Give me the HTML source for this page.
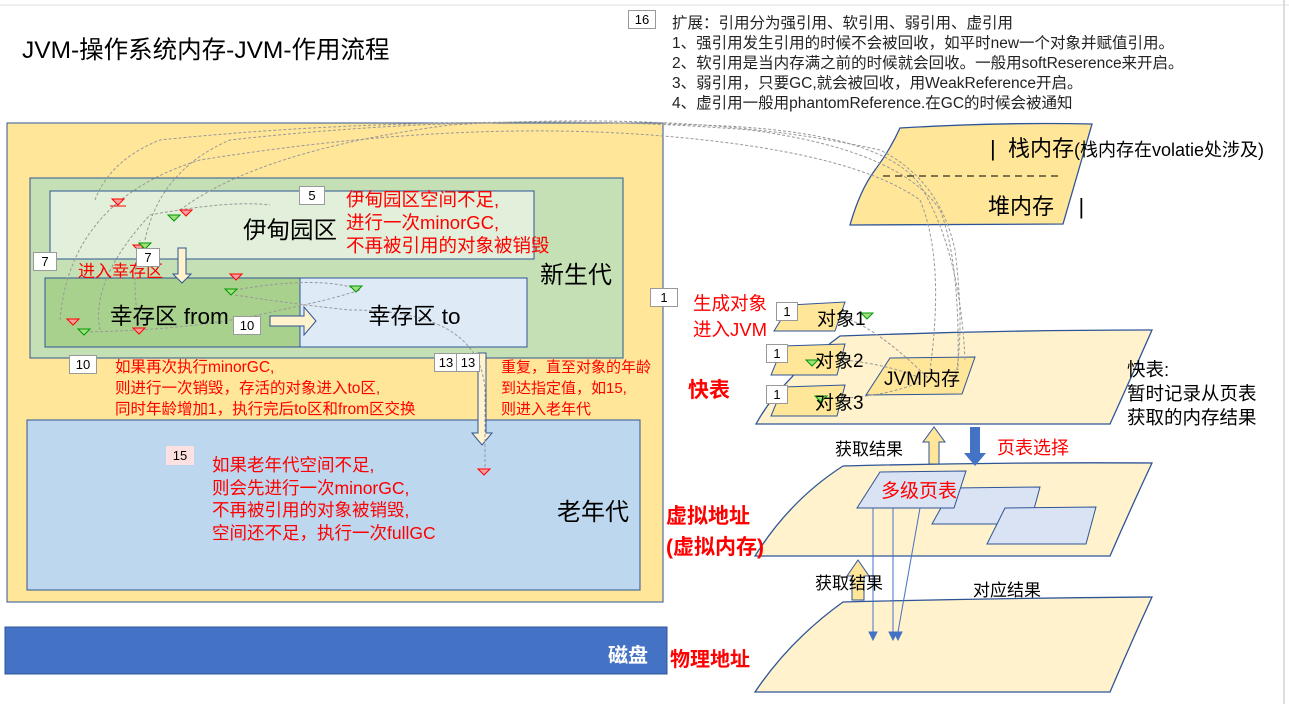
<!DOCTYPE html>
<html><head><meta charset="utf-8"><style>
body{margin:0;width:1289px;height:704px;background:#fff;position:relative;overflow:hidden;font-family:"Liberation Sans","Noto Sans CJK SC",sans-serif;}
.a{position:absolute;white-space:nowrap;}
.r{color:#f00;}
.n{position:absolute;background:#fff;border:1px solid #999;font-size:13px;text-align:center;line-height:17px;}
</style></head><body>
<svg width="1289" height="704" style="position:absolute;left:0;top:0">
<line x1="1284" y1="0" x2="1284" y2="704" stroke="#bbb"/>
<line x1="0" y1="5" x2="1289" y2="5" stroke="#ddd"/>
<rect x="7" y="123" width="656" height="479" fill="#ffe699" stroke="#2f5597"/>
<rect x="30" y="178" width="593" height="180" fill="#c5e0b4" stroke="#2f5597"/>
<rect x="50" y="191" width="484" height="68" fill="#e2efda" stroke="#2f5597"/>
<rect x="45" y="278" width="255" height="69" fill="#a9d18e" stroke="#2f5597"/>
<rect x="300" y="278" width="227" height="69" fill="#deebf7" stroke="#2f5597"/>
<rect x="27" y="420" width="613" height="170" fill="#bdd7ee" stroke="#2f5597"/>
<rect x="5" y="627" width="662" height="47" fill="#4472c4" stroke="#2f5597"/>
<path d="M178 248h8v26h5l-9 9-9-9h5z" fill="#fff2cc" stroke="#2f5597"/>
<path d="M270 316h34v-9l12 14-12 14v-9h-34z" fill="#fff2cc" stroke="#2f5597"/>
<path d="M478 353h8v80h6l-10 12-10-12h6z" fill="#fff2cc" stroke="#2f5597"/>
<path d="M900 128 Q1000 122 1092 124 L1063 224 L850 225 Q860 190 875 170 Q890 150 900 128Z" fill="#ffe699" stroke="#2f5597" stroke-width="1.3"/>
<line x1="883" y1="176" x2="1058" y2="176" stroke="#000" stroke-dasharray="7,5"/>
<path d="M840 336 Q1000 330 1152 330 Q1130 380 1110 424 L756 424 Q780 380 840 336Z" fill="#fff2cc" stroke="#2f5597" stroke-width="1.3"/>
<path d="M843 466 Q1000 462 1152 463 Q1130 510 1110 556 L755 556 Q790 500 843 466Z" fill="#fff2cc" stroke="#2f5597" stroke-width="1.3"/>
<path d="M843 602 Q1000 598 1152 597 Q1130 645 1110 692 L755 692 Q790 640 843 602Z" fill="#fff2cc" stroke="#2f5597" stroke-width="1.3"/>
<path d="M790 305 L845 302 L835 331 L774 331Z" fill="#ffe699" stroke="#2f5597"/>
<path d="M783 346 L845 344 L837 375 L771 375Z" fill="#ffe699" stroke="#2f5597"/>
<path d="M783 387 L845 385 L837 416 L771 416Z" fill="#ffe699" stroke="#2f5597"/>
<path d="M890 358 L975 357 L962 394 L866 395Z" fill="#ffe699" stroke="#2f5597"/>
<path d="M952 488 L1040 487 L1030 524 L932 524Z" fill="#dae3f3" stroke="#2f5597"/>
<path d="M1005 508 L1096 507 L1086 544 L987 544Z" fill="#dae3f3" stroke="#2f5597"/>
<path d="M880 472 L966 471 L954 508 L857 508Z" fill="#dae3f3" stroke="#2f5597"/>
<path d="M929 464h10v-22h6l-11-15-11 15h6z" fill="#ffe699" stroke="#2f5597"/>
<path d="M970 427h10v26h6l-11 13-11-13h6z" fill="#4472c4"/>
<path d="M852 600h12v-24h5l-11-16-11 16h5z" fill="#ffe699" stroke="#2f5597"/>
<g stroke="#4472c4" fill="#4472c4">
<line x1="873" y1="508" x2="873" y2="632"/><path d="M869 632h8l-4 8z"/>
<line x1="893" y1="508" x2="893" y2="632"/><path d="M889 632h8l-4 8z"/>
<line x1="920" y1="508" x2="898" y2="632"/><path d="M894 632h8l-4 8z"/>
</g>
<g fill="none" stroke="#999" stroke-dasharray="3,2" stroke-width="1">
<path d="M95 200 Q110 160 160 140 Q400 115 700 125 Q880 130 920 185 Q960 250 965 360"/>
<path d="M145 240 Q160 170 230 140 Q500 110 750 130 Q900 150 940 210 Q960 260 958 370"/>
<path d="M180 210 Q260 150 450 125 Q700 110 880 150 Q940 180 955 250 Q965 330 955 380"/>
<path d="M60 320 Q70 200 200 160 Q450 120 650 135 Q850 150 920 200 Q945 260 930 370"/>
<path d="M100 330 Q90 280 150 215 Q230 200 270 205"/>
<path d="M140 330 Q130 280 140 240"/>
<path d="M85 332 Q200 330 280 310 Q330 300 360 290"/>
<path d="M235 290 Q320 275 360 290"/>
<path d="M235 295 Q300 305 350 310 Q480 310 485 390 L485 470"/>
<path d="M845 318 Q880 330 930 380"/>
<path d="M845 360 Q890 365 920 378"/>
<path d="M845 398 Q890 395 920 382"/>
</g>
<g stroke-width="1">
<path d="M112 199h12l-6 6z" fill="#f8a0a0" stroke="#f00"/><line x1="110" y1="206" x2="126" y2="206" stroke="#f00"/>
<path d="M180 210h12l-6 6z" fill="#f8a0a0" stroke="#f00"/>
<path d="M168 215h12l-6 6z" fill="#a0e080" stroke="#090"/>
<path d="M133 245h12l-6 6z" fill="#f8a0a0" stroke="#f00"/>
<path d="M139 243h12l-6 6z" fill="#a0e080" stroke="#090"/>
<path d="M230 274h12l-6 6z" fill="#f8a0a0" stroke="#f00"/>
<path d="M225 289h12l-6 6z" fill="#a0e080" stroke="#090"/>
<path d="M350 286h12l-6 6z" fill="#a0e080" stroke="#090"/>
<path d="M67 319h12l-6 6z" fill="#f8a0a0" stroke="#f00"/>
<path d="M78 329h12l-6 6z" fill="#a0e080" stroke="#090"/>
<path d="M133 328h12l-6 6z" fill="#f8a0a0" stroke="#f00"/>
<path d="M478 469h12l-6 6z" fill="#f8a0a0" stroke="#f00"/>
<path d="M861 313h12l-6 6z" fill="#a0e080" stroke="#090"/>
<path d="M806 360h12l-6 6z" fill="#a0e080" stroke="#090"/>
<path d="M815 396h12l-6 6z" fill="#a0e080" stroke="#090"/>
</g>
</svg>
<div class="a" style="left:22px;top:31px;font-size:24.5px">JVM-操作系统内存-JVM-作用流程</div>
<div class="n" style="left:628px;top:10px;width:26px">16</div>
<div class="a" style="left:672px;top:14px;font-size:15.5px;line-height:20px;color:#222">扩展：引用分为强引用、软引用、弱引用、虚引用<br>1、强引用发生引用的时候不会被回收，如平时new一个对象并赋值引用。<br>2、软引用是当内存满之前的时候就会回收。一般用softReserence来开启。<br>3、弱引用，只要GC,就会被回收，用WeakReference开启。<br>4、虚引用一般用phantomReference.在GC的时候会被通知</div>
<div class="a" style="left:243px;top:211px;font-size:23.5px">伊甸园区</div>
<div class="a r" style="left:346px;top:188px;font-size:18.5px;line-height:23px">伊甸园区空间不足,<br>进行一次minorGC,<br>不再被引用的对象被销毁</div>
<div class="a" style="left:540px;top:255px;font-size:24px">新生代</div>
<div class="a r" style="left:78px;top:257px;font-size:17px">进入幸存区</div>
<div class="a" style="left:110px;top:299px;font-size:22.5px">幸存区 from</div>
<div class="a" style="left:368px;top:299px;font-size:22.5px">幸存区 to</div>
<div class="a r" style="left:115px;top:357px;font-size:15.5px;line-height:21px">如果再次执行minorGC,<br>则进行一次销毁，存活的对象进入to区,<br>同时年龄增加1，执行完后to区和from区交换</div>
<div class="a r" style="left:501px;top:357px;font-size:15px;line-height:21px">重复，直至对象的年龄<br>到达指定值，如15,<br>则进入老年代</div>
<div class="a r" style="left:212px;top:454px;font-size:17.5px;line-height:22.5px">如果老年代空间不足,<br>则会先进行一次minorGC,<br>不再被引用的对象被销毁,<br>空间还不足，执行一次fullGC</div>
<div class="a" style="left:557px;top:492px;font-size:24px">老年代</div>
<div class="a" style="left:608px;top:639px;font-size:20px;color:#fff;font-weight:bold">磁盘</div>
<div class="a r" style="left:670px;top:643px;font-size:20px;font-weight:bold">物理地址</div>
<div class="n" style="left:299px;top:186px;width:24px">5</div>
<div class="n" style="left:33px;top:252px;width:22px">7</div>
<div class="n" style="left:136px;top:248px;width:22px">7</div>
<div class="n" style="left:233px;top:316px;width:26px">10</div>
<div class="n" style="left:69px;top:355px;width:26px">10</div>
<div class="n" style="left:434px;top:353px;width:22px">13</div>
<div class="n" style="left:456px;top:353px;width:22px">13</div>
<div class="n" style="left:166px;top:446px;width:26px;background:#fde0e0;border-color:#fde0e0">15</div>
<div class="n" style="left:650px;top:288px;width:26px">1</div>
<div class="n" style="left:776px;top:302px;width:20px">1</div>
<div class="n" style="left:766px;top:344px;width:20px">1</div>
<div class="n" style="left:766px;top:385px;width:20px">1</div>
<div class="a" style="left:990px;top:131px;font-size:22px">|&nbsp;&nbsp;栈内存<span style="font-size:18px">(栈内存在volatie处涉及)</span></div>
<div class="a" style="left:988px;top:189px;font-size:22px">堆内存&nbsp;&nbsp;&nbsp;&nbsp;|</div>
<div class="a r" style="left:693px;top:291px;font-size:18.5px;line-height:26px">生成对象<br>进入JVM</div>
<div class="a r" style="left:688px;top:374px;font-size:21px;font-weight:bold">快表</div>
<div class="a" style="left:817px;top:304px;font-size:19px">对象1</div>
<div class="a" style="left:815px;top:346px;font-size:19px">对象2</div>
<div class="a" style="left:815px;top:388px;font-size:19px">对象3</div>
<div class="a" style="left:884px;top:364px;font-size:19px">JVM内存</div>
<div class="a" style="left:1127px;top:358px;font-size:18.5px;line-height:24px">快表:<br>暂时记录从页表<br>获取的内存结果</div>
<div class="a" style="left:835px;top:435px;font-size:17px">获取结果</div>
<div class="a r" style="left:997px;top:434px;font-size:18px">页表选择</div>
<div class="a r" style="left:881px;top:476px;font-size:19px">多级页表</div>
<div class="a r" style="left:666px;top:501px;font-size:21px;font-weight:bold;line-height:31px">虚拟地址<br>(虚拟内存)</div>
<div class="a" style="left:815px;top:569px;font-size:17px">获取结果</div>
<div class="a" style="left:973px;top:576px;font-size:17px">对应结果</div>
</body></html>
